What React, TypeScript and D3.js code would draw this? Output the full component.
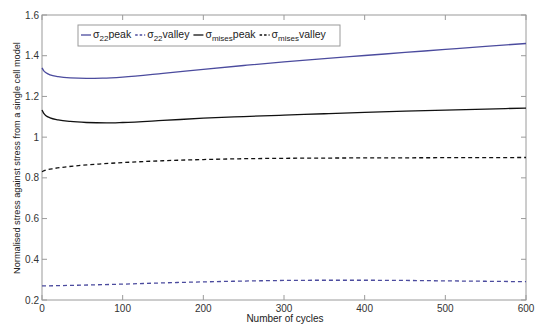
import React, { useEffect, useRef } from "react";
import * as d3 from "d3";

// cycles sampled along each curve
const s22PeakX = [0, 2, 5, 10, 20, 35, 55, 75, 100, 150, 200, 250, 300, 350, 400, 450, 500, 550, 600];
const s22PeakY = [1.34, 1.327, 1.316, 1.306, 1.297, 1.291, 1.289, 1.29, 1.295, 1.313, 1.333, 1.352, 1.37, 1.386, 1.401, 1.416, 1.431, 1.446, 1.46];

const misesPeakX = [0, 2, 5, 10, 20, 35, 55, 80, 100, 150, 200, 250, 300, 350, 400, 450, 500, 550, 600];
const misesPeakY = [1.133, 1.118, 1.105, 1.095, 1.085, 1.077, 1.072, 1.07, 1.072, 1.082, 1.093, 1.101, 1.108, 1.115, 1.122, 1.128, 1.133, 1.138, 1.143];

const misesValleyX = [0, 5, 15, 30, 50, 75, 100, 150, 200, 250, 300, 400, 500, 600];
const misesValleyY = [0.83, 0.838, 0.846, 0.854, 0.862, 0.869, 0.875, 0.884, 0.89, 0.894, 0.896, 0.898, 0.899, 0.9];

const s22ValleyX = [0, 50, 100, 150, 200, 250, 300, 350, 400, 450, 500, 550, 600];
const s22ValleyY = [0.269, 0.273, 0.278, 0.284, 0.289, 0.293, 0.296, 0.297, 0.297, 0.296, 0.294, 0.292, 0.29];

const xTicks = [0, 100, 200, 300, 400, 500, 600];
const yTicks = [0.2, 0.4, 0.6, 0.8, 1, 1.2, 1.4, 1.6];

const BLUE = "#4b4b9e";
const BLACK = "#111111";

const series = [
  { name: "22", label: "peak", xs: s22PeakX, ys: s22PeakY, color: BLUE, dash: "" },
  { name: "22", label: "valley", xs: s22ValleyX, ys: s22ValleyY, color: BLUE, dash: "4,3" },
  { name: "mises", label: "peak", xs: misesPeakX, ys: misesPeakY, color: BLACK, dash: "" },
  { name: "mises", label: "valley", xs: misesValleyX, ys: misesValleyY, color: BLACK, dash: "4,3" },
];

const App = () => {
  const svgRef = useRef<SVGSVGElement | null>(null);

  useEffect(() => {
    const svg = d3.select(svgRef.current);
    svg.selectAll("*").remove();

    const margin = { top: 15, right: 13, bottom: 24, left: 42 };
    const width = 539 - margin.left - margin.right;
    const height = 324 - margin.top - margin.bottom;
    const font = "Liberation Sans, Arial, sans-serif";

    const x = d3.scaleLinear().domain([0, 600]).range([0, width]);
    const y = d3.scaleLinear().domain([0.2, 1.6]).range([height, 0]);

    const g = svg.append("g").attr("transform", `translate(${margin.left},${margin.top})`);

    // box
    g.append("rect")
      .attr("width", width)
      .attr("height", height)
      .attr("fill", "white")
      .attr("stroke", "#9a9a9a")
      .attr("stroke-width", 1);

    // inward ticks on all four sides
    const tickLen = 5;
    xTicks.forEach((t) => {
      g.append("line").attr("x1", x(t)).attr("x2", x(t)).attr("y1", height).attr("y2", height - tickLen).attr("stroke", "#9a9a9a");
      g.append("line").attr("x1", x(t)).attr("x2", x(t)).attr("y1", 0).attr("y2", tickLen).attr("stroke", "#9a9a9a");
      g.append("text")
        .attr("x", x(t))
        .attr("y", height + 12)
        .attr("text-anchor", "middle")
        .style("font-family", font)
        .style("font-size", "10px")
        .attr("fill", "#333")
        .text(String(t));
    });
    yTicks.forEach((t) => {
      g.append("line").attr("x1", 0).attr("x2", tickLen).attr("y1", y(t)).attr("y2", y(t)).attr("stroke", "#9a9a9a");
      g.append("line").attr("x1", width).attr("x2", width - tickLen).attr("y1", y(t)).attr("y2", y(t)).attr("stroke", "#9a9a9a");
      g.append("text")
        .attr("x", -3)
        .attr("y", y(t))
        .attr("dy", "0.35em")
        .attr("text-anchor", "end")
        .style("font-family", font)
        .style("font-size", "10px")
        .attr("fill", "#333")
        .text(String(t));
    });

    // curves
    const line = d3
      .line<[number, number]>()
      .x((d) => x(d[0]))
      .y((d) => y(d[1]))
      .curve(d3.curveMonotoneX);

    series.forEach((s) => {
      const pts = s.xs.map((v, i) => [v, s.ys[i]] as [number, number]);
      g.append("path")
        .attr("d", line(pts))
        .attr("fill", "none")
        .attr("stroke", s.color)
        .attr("stroke-width", 1.3)
        .attr("stroke-dasharray", s.dash || null);
    });

    // axis labels
    svg.append("text")
      .attr("x", 285)
      .attr("y", 322)
      .attr("text-anchor", "middle")
      .style("font-family", font)
      .style("font-size", "10px")
      .attr("fill", "#222")
      .text("Number of cycles");

    svg.append("text")
      .attr("transform", `translate(20,${158}) rotate(-90)`)
      .attr("text-anchor", "middle")
      .style("font-family", font)
      .style("font-size", "9.2px")
      .attr("fill", "#222")
      .text("Normalised stress against stress from a single cell model");

    // legend
    const lg = svg.append("g").attr("transform", "translate(78,25)");
    lg.append("rect")
      .attr("width", 262)
      .attr("height", 21)
      .attr("fill", "white")
      .attr("stroke", "#9a9a9a");

    let cx = 3;
    series.forEach((s) => {
      lg.append("line")
        .attr("x1", cx)
        .attr("x2", cx + 10)
        .attr("y1", 10)
        .attr("y2", 10)
        .attr("stroke", s.color)
        .attr("stroke-width", 1.3)
        .attr("stroke-dasharray", s.dash ? "2.5,2" : null);
      const t = lg.append("text")
        .attr("x", cx + 12)
        .attr("y", 13)
        .style("font-family", font)
        .style("font-size", "10.5px")
        .attr("fill", "#222");
      t.append("tspan").text("σ");
      t.append("tspan").attr("dy", 3).style("font-size", "8px").text(s.name);
      t.append("tspan").attr("dy", -3).text(s.label);
      const w = (t.node() as SVGTextElement).getComputedTextLength();
      cx += 12 + w + 4;
    });
  }, []);

  return (
    <svg
      ref={svgRef}
      width={539}
      height={324}
      style={{ display: "block", position: "absolute", left: 0, top: 0 }}
    ></svg>
  );
};

export default App;
